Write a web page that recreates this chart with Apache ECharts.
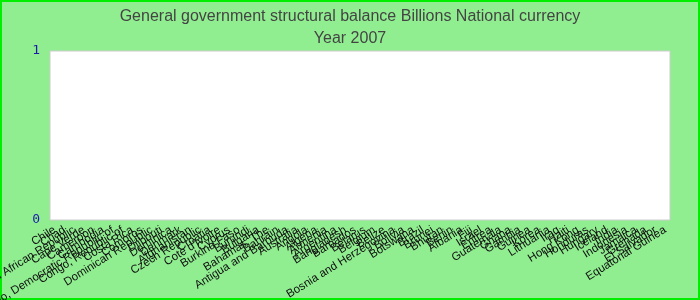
<!DOCTYPE html>
<html>
<head>
<meta charset="utf-8">
<script src="https://cdn.jsdelivr.net/npm/echarts@6/dist/echarts.min.js"></script>
<style>
html,body{margin:0;padding:0;background:#90EE90;}
#chart{width:700px;height:300px;}
</style>
</head>
<body>
<div id="chart"></div>
<script>
const titleText = 'General government structural balance Billions National currency';
const subtitleText = 'Year 2007';
const categories = [
  'Chile','Chad','Central African Republic','Cape Verde','Cameroon','Cambodia',
  'Congo, Democratic Republic of','Congo, Republic of','Costa Rica','Comoros',
  'Dominican Republic','Djibouti','Dominica','Denmark','Afghanistan','Czech Republic',
  'Croatia',"Cote d'Ivoire",'Cyprus','Burkina Faso','Burundi','Bulgaria','Bahamas, The',
  'Bahrain','Antigua and Barbuda','Australia','Angola','Algeria','Armenia','Argentina',
  'Bangladesh','Barbados','Belarus','Belgium','Belize','Bosnia and Herzegovina','Bolivia',
  'Botswana','Brazil','Brunei','Bhutan','Benin','Albania','Fiji','Israel','Eritrea',
  'Guatemala','Ghana','Gambia','Guinea','Korea','Lithuania','Iraq','Haiti','Hong Kong',
  'Honduras','Hungary','Iceland','India','Indonesia','Jamaica','Grenada','El Salvador',
  'Equatorial Guinea'
];
// No visible values in the reference: every bar is empty
const values = categories.map(() => null);
const yMin = 0, yMax = 1, yInterval = 1;

const chart = echarts.init(document.getElementById('chart'), null, {renderer:'canvas'});
chart.setOption({
  backgroundColor: '#90EE90',
  animation: false,
  title: [
    {text: titleText, left: 'center', top: 4,
     textStyle: {fontFamily: 'Liberation Sans', fontSize: 16, fontWeight: 'normal', color: '#444'}},
    {text: subtitleText, left: 'center', top: 26,
     textStyle: {fontFamily: 'Liberation Sans', fontSize: 16, fontWeight: 'normal', color: '#444'}}
  ],
  graphic: [{
    type: 'rect', shape: {x: 1, y: 1, width: 698, height: 298},
    style: {fill: 'none', stroke: '#00ee00', lineWidth: 2}, silent: true
  }],
  grid: {left: 50, right: 30, top: 51, bottom: 80, containLabel: false, outerBoundsMode: 'none',
         show: true, backgroundColor: '#ffffff', borderColor: '#cccccc', borderWidth: 1},
  xAxis: {
    type: 'category', data: categories,
    axisLine: {show: false}, axisTick: {show: false},
    axisLabel: {interval: 0, rotate: 32, margin: 9, fontFamily: 'Liberation Sans',
                fontSize: 11.5, color: '#111'}
  },
  yAxis: {
    type: 'value', min: yMin, max: yMax, interval: yInterval,
    axisLine: {show: false}, axisTick: {show: false}, splitLine: {show: false},
    axisLabel: {margin: 10, fontFamily: 'DejaVu Sans Mono', fontSize: 13, color: '#1c1caa'}
  },
  series: [{type: 'bar', data: values, itemStyle: {color: '#4472c4'}}]
});
</script>
</body>
</html>
